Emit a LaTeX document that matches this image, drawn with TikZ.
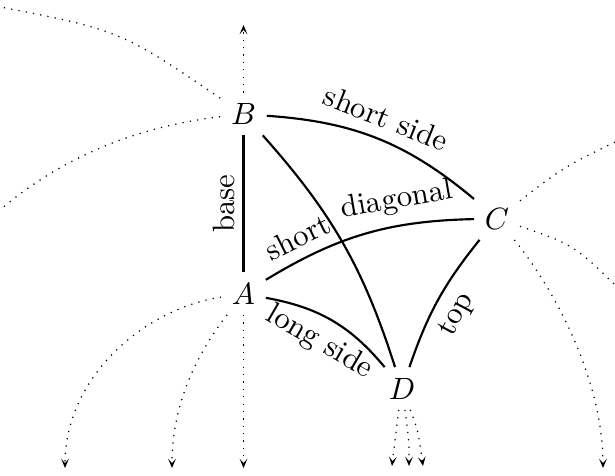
\documentclass[tikz,border=0pt]{standalone}
\usetikzlibrary{arrows.meta}
\begin{document}
\begin{tikzpicture}[x=0.325pt,y=0.325pt,
  >={Stealth[length=3pt,width=2.5pt,inset=1.4pt]},
  edgeline/.style={line width=0.7pt},
  dots/.style={dotted},
  lbl/.style={sloped}]
\useasboundingbox (0,0) rectangle (615,475);
\clip (0,0) rectangle (615,475);
% vertices
\node (B) at (243.5,361) {$B$};
\node (A) at (243.5,181.5) {$A$};
\node (C) at (497,256.5) {$C$};
\node (D) at (402,86.5) {$D$};
% free ends of the dotted connectors
\coordinate (Bup) at (243.5,450);
\coordinate (Bnw) at (-10,470);
\coordinate (Bw) at (0,265);
\coordinate (Afar) at (65,7);
\coordinate (Amid) at (172,7);
\coordinate (Adown) at (243.5,7);
\coordinate (Da) at (392,9);
\coordinate (Db) at (409,9);
\coordinate (Dc) at (423,9);
\coordinate (Cne) at (640,345);
\coordinate (Ce) at (630,175);
\coordinate (Cdown) at (603,7);
% solid edges
\draw[edgeline] (A) -- node[lbl,above,inner sep=2.5pt]{base} (B);
\draw[edgeline] (B) to[bend left=18] node[lbl,above]{short side} (C);
\draw[edgeline] (B) to[bend left=12] (D);
\draw[edgeline] (A) to[bend left=15] node[lbl,above,pos=0.2]{short} node[lbl,above,pos=0.68]{diagonal} (C);
\draw[edgeline] (A) to[bend left=20] node[lbl,below]{long side} (D);
\draw[edgeline] (D) to[bend left=10] node[lbl,below,pos=0.47]{top} (C);
% dotted connectors
\draw[dots,->] (B) -- (Bup);
\draw[dots] (B) .. controls (120,445) .. (Bnw);
\draw[dots] (B) .. controls (150,350) and (70,325) .. (Bw);
\draw[dots,->] (A) .. controls (140,165) and (65,95) .. (Afar);
\draw[dots,->] (A) .. controls (200,125) and (172,75) .. (Amid);
\draw[dots,->] (A) -- (Adown);
\draw[dots,->] (D) .. controls (395,40) .. (Da);
\draw[dots,->] (D) .. controls (409,35) .. (Db);
\draw[dots,->] (D) .. controls (418,45) .. (Dc);
\draw[dots] (C) .. controls (565,309) .. (Cne);
\draw[dots] (C) .. controls (575,230) .. (Ce);
\draw[dots,->] (C) .. controls (555,185) and (603,95) .. (Cdown);
\end{tikzpicture}
\end{document}
